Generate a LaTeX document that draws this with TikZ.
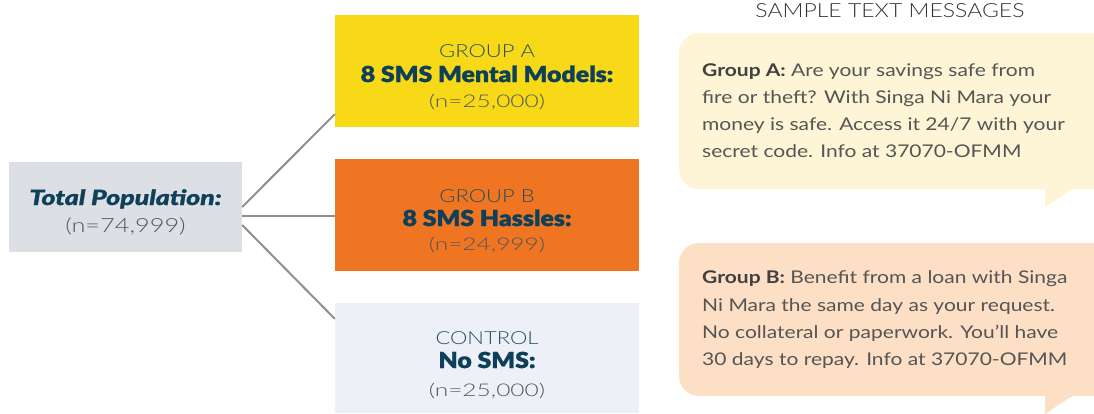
\documentclass[tikz,border=0pt]{standalone}
\usetikzlibrary{calc}
\usepackage{fontspec}
\setmainfont{Lato}
\newfontfamily\lightf{Lato Light}
\newfontfamily\blackf{Lato Black}[FakeBold=1.2]
\newcommand\hsc[2]{\scalebox{#1}[1]{#2}}
\definecolor{totalc}{HTML}{DCDFE3}
\definecolor{yellowc}{HTML}{F8D917}
\definecolor{orangec}{HTML}{F07522}
\definecolor{ctrlc}{HTML}{EEF0F7}
\definecolor{bubA}{HTML}{FDF5D5}
\definecolor{bubB}{HTML}{FDDFC6}
\definecolor{teal}{HTML}{0E4159}
\definecolor{tealL}{HTML}{24505F}
\definecolor{greyt}{HTML}{555555}
\definecolor{linec}{HTML}{8F8F8F}
\tikzset{
  box/.style={draw=none, inner sep=0pt, minimum width=304pt, minimum height=112pt},
  grp/.style={anchor=base, inner sep=0pt, text=tealL, font=\lightf\fontsize{18}{18}\selectfont},
  hd/.style={anchor=base, inner sep=0pt, text=teal, font=\blackf\fontsize{22}{22}\selectfont},
  num/.style={anchor=base, inner sep=0pt, text=greyt, font=\lightf\fontsize{17.5}{17.5}\selectfont},
  msg/.style={anchor=base west, inner sep=0pt, text=greyt, font=\fontsize{17.5}{17.5}\selectfont},
  conn/.style={draw=linec, line width=2pt},
}
\begin{document}
\begin{tikzpicture}[x=1pt,y=-1pt]
\useasboundingbox (0,0) rectangle (1094,413);
\clip (0,0) rectangle (1094,413);

% boxes
\node[box, fill=totalc, minimum width=233pt, minimum height=90pt] (total) at (125.5,207) {};
\node[box, fill=yellowc] (ga) at (487,71) {};
\node[box, fill=orangec] (gb) at (487,215) {};
\node[box, fill=ctrlc, minimum height=110pt] (ctrl) at (487,358) {};

% connectors
\coordinate (s1) at ($(total.east)$);
\coordinate (s2) at ($(total.east)+(0,9)$);
\coordinate (s3) at ($(total.east)+(0,18)$);
\coordinate (e1) at ($(ga.south west)+(0,-13)$);
\coordinate (e2) at ($(gb.west)+(0,1)$);
\coordinate (e3) at ($(ctrl.north west)+(0,16)$);
\draw[conn] (s1) -- (e1);
\draw[conn] (s2) -- (e2);
\draw[conn] (s3) -- (e3);

% total text
\node[anchor=base, inner sep=0pt, text=teal, font=\blackf\itshape\fontsize{21}{21}\selectfont] (totT) at (125.5,205) {\hsc{1.27}{Total Population:}};
\node[num, font=\lightf\fontsize{19.5}{19.5}\selectfont] (totN) at (125.5,232) {\hsc{1.3}{(n=74,999)}};

% group A
\node[grp] (gaT) at (487,57) {\hsc{1.22}{GROUP A}};
\node[hd] (gaH) at (487,82) {\hsc{1.13}{8 SMS Mental Models:}};
\node[num] (gaN) at (487,107) {\hsc{1.4}{(n=25,000)}};

% group B
\node[grp] (gbT) at (487,202) {\hsc{1.22}{GROUP B}};
\node[hd] (gbH) at (487,226) {\hsc{1.13}{8 SMS Hassles:}};
\node[num] (gbN) at (487,250) {\hsc{1.4}{(n=24,999)}};

% control
\node[grp] (ctT) at (487,344) {\hsc{1.22}{CONTROL}};
\node[hd] (ctH) at (487,368) {\hsc{1.13}{No SMS:}};
\node[num] (ctN) at (487,396) {\hsc{1.4}{(n=25,000)}};

% title
\node[anchor=base, inner sep=0pt, text=black!80, font=\lightf\fontsize{19.5}{19.5}\selectfont] (title) at (890,17) {\hsc{1.18}{SAMPLE TEXT MESSAGES}};

% bubble A
\fill[bubA, rounded corners=20pt] (679,33) rectangle (1114,189);
\fill[bubA] (1045,185) -- (1072,189) -- (1045,207) -- cycle;
\fill[bubA] (1045,185) rectangle (1072,189.5);
\node[msg] (a1) at (702,76) {\hsc{1.2}{\textbf{\color{black!75}Group A:} Are your savings safe from}};
\node[msg] (a2) at (702,103) {\hsc{1.2}{fire or theft? With Singa Ni Mara your}};
\node[msg] (a3) at (702,130) {\hsc{1.2}{money is safe. Access it 24/7 with your}};
\node[msg] (a4) at (702,157) {\hsc{1.2}{secret code. Info at 37070-OFMM}};

% bubble B
\fill[bubB, rounded corners=20pt] (679,243) rectangle (1114,396);
\fill[bubB] (1045,392) -- (1072,396) -- (1045,414) -- cycle;
\fill[bubB] (1045,392) rectangle (1072,396.5);
\node[msg] (b1) at (702,283) {\hsc{1.2}{\textbf{\color{black!75}Group B:} Benefit from a loan with Singa}};
\node[msg] (b2) at (702,311) {\hsc{1.2}{Ni Mara the same day as your request.}};
\node[msg] (b3) at (702,338) {\hsc{1.2}{No collateral or paperwork. You’ll have}};
\node[msg] (b4) at (702,365) {\hsc{1.2}{30 days to repay. Info at 37070-OFMM}};
\end{tikzpicture}
\end{document}
